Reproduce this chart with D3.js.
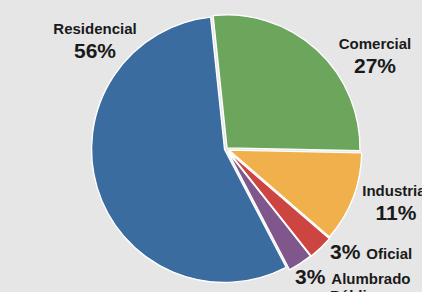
<!DOCTYPE html>
<html>
<head>
<meta charset="utf-8">
<script src="https://cdn.jsdelivr.net/npm/d3@7"></script>
<style>
  html, body { margin: 0; padding: 0; background: #e6e6e6; overflow: hidden; }
</style>
</head>
<body>
<div id="chart"></div>
<script>
// Data
const categories = ["Residencial", "Comercial", "Industrial", "Oficial", "Alumbrado Público"];
const values = [56, 27, 11, 3, 3];
const percentLabels = ["56%", "27%", "11%", "3%", "3%"];

const width = 422;
const height = 292;
const cx = 226, cy = 149, radius = 133;

const color = d3.scaleOrdinal()
  .domain(categories)
  .range(["#3a6c9f", "#6ba65c", "#f0b14c", "#cd4540", "#7f578d"]);

// how far each slice is pulled out from the centre
const explode = [1.5, 1.5, 3, 4, 3.5];

const svg = d3.select("#chart").append("svg")
  .attr("width", width)
  .attr("height", height)
  .attr("viewBox", [0, 0, width, height])
  .style("font-family", "'Liberation Sans', Arial, sans-serif");

svg.append("rect").attr("width", width).attr("height", height).attr("fill", "#e6e6e6");

const pie = d3.pie()
  .sort(null)
  .value(d => d.value)
  .startAngle(152.4 * Math.PI / 180)
  .endAngle((152.4 + 360) * Math.PI / 180);

const arc = d3.arc().innerRadius(0).outerRadius(radius);

const slices = pie(categories.map((c, i) => ({ name: c, value: values[i], i })));

const g = svg.append("g").attr("transform", `translate(${cx},${cy})`);

g.selectAll("path")
  .data(slices)
  .join("path")
  .attr("d", arc)
  .attr("fill", d => color(d.data.name))
  .attr("stroke", "#ffffff")
  .attr("stroke-width", 1.4)
  .attr("stroke-linejoin", "round")
  .attr("transform", d => {
    const a = (d.startAngle + d.endAngle) / 2;
    const k = explode[d.data.i];
    return `translate(${k * Math.sin(a)},${-k * Math.cos(a)})`;
  });

// Labels (Excel style, outside end)
const labels = svg.append("g").attr("fill", "#1a1a1a").attr("font-weight", "bold");

function stacked(x, y, name, pct) {
  const t = labels.append("text").attr("text-anchor", "middle");
  t.append("tspan").attr("x", x).attr("y", y).attr("font-size", 15).text(name);
  t.append("tspan").attr("x", x).attr("y", y + 24).attr("font-size", 21).text(pct);
}

stacked(95, 34, categories[0], percentLabels[0]);
stacked(375, 49, categories[1], percentLabels[1]);
stacked(396, 196, categories[2], percentLabels[2]);

// Oficial: percent then name on one line
const t3 = labels.append("text").attr("x", 330).attr("y", 258.5);
t3.append("tspan").attr("font-size", 21).text(percentLabels[3]);
t3.append("tspan").attr("font-size", 15).attr("dx", 6).text(categories[3]);

// Alumbrado Público: percent then name split over two lines
const [w1, w2] = categories[4].split(" ");
const t4 = labels.append("text").attr("x", 295).attr("y", 283.5);
t4.append("tspan").attr("font-size", 21).text(percentLabels[4]);
t4.append("tspan").attr("font-size", 15).attr("dx", 6).text(w1);
labels.append("text").attr("x", 330).attr("y", 301).attr("font-size", 15).text(w2);
</script>
</body>
</html>
